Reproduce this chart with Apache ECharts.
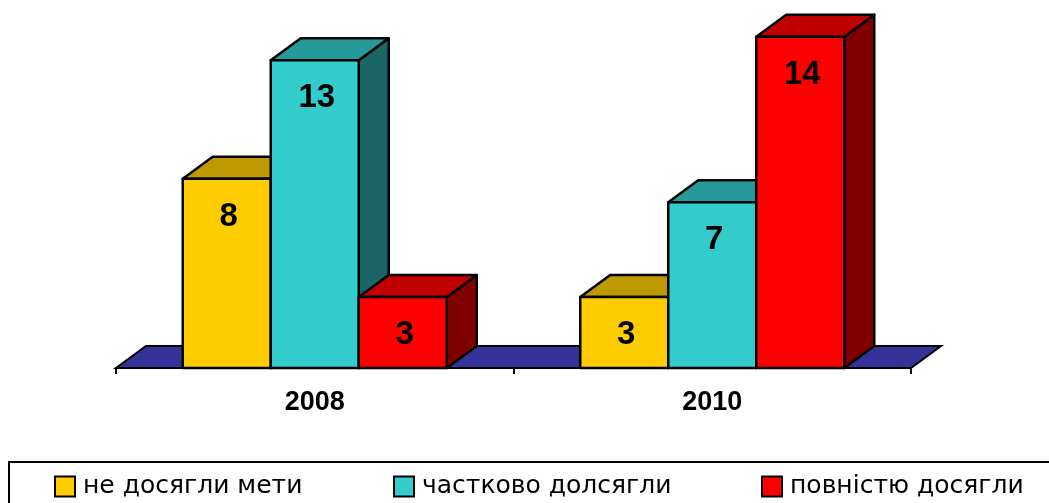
<!DOCTYPE html>
<html>
<head>
<meta charset="utf-8">
<script src="https://cdn.jsdelivr.net/npm/echarts@6/dist/echarts.min.js"></script>
<style>
html, body { margin: 0; padding: 0; background: #fff; }
#content { width: 1049px; height: 503px; }
</style>
</head>
<body>
<div id="content"></div>
<script>
// дані діаграми
var years = ['2008', '2010'];
var seriesNames = ['не досягли мети', 'частково долсягли', 'повністю досягли'];
var notReached = [8, 3];
var partly = [13, 7];
var fully = [3, 14];

// кольори граней: фронт, верх, бік
var faceColors = [
    ['#FFCC00', '#BF9900', '#806600'],
    ['#33CCCC', '#269999', '#1A6666'],
    ['#FF0000', '#C00000', '#800000']
];
var DX = 30, DY = 22;      // зсув "глибини"
var BAR_RATIO = 0.2214;    // ширина стовпця від ширини категорії

function barRenderer(idx) {
    return function (params, api) {
        var cat = api.value(0);
        var val = api.value(1);
        var base = api.coord([cat, 0]);
        var top = api.coord([cat, val]);
        var w = api.size([1, 0])[0] * BAR_RATIO;
        var x0 = base[0] + (idx - 1) * w - w / 2;
        var x1 = x0 + w;
        var ty = top[1], by = base[1];
        var c = faceColors[idx];
        var line = { stroke: '#000', lineWidth: 2.5, lineJoin: 'round' };
        return {
            type: 'group',
            children: [{
                type: 'polygon',
                shape: { points: [[x1, ty], [x1 + DX, ty - DY], [x1 + DX, by - DY], [x1, by]] },
                style: Object.assign({ fill: c[2] }, line)
            }, {
                type: 'polygon',
                shape: { points: [[x0, ty], [x1, ty], [x1 + DX, ty - DY], [x0 + DX, ty - DY]] },
                style: Object.assign({ fill: c[1] }, line)
            }, {
                type: 'rect',
                shape: { x: x0, y: ty, width: w, height: by - ty },
                style: Object.assign({ fill: c[0] }, line)
            }, {
                type: 'text',
                style: {
                    text: String(val),
                    x: x0 + w / 2 + 2,
                    y: ty + 38,
                    align: 'center',
                    verticalAlign: 'middle',
                    fontFamily: 'Liberation Sans',
                    fontWeight: 'bold',
                    fontSize: 33,
                    fill: '#000'
                }
            }]
        };
    };
}

function floorRenderer(params, api) {
    var cs = params.coordSys;
    var yb = cs.y + cs.height;
    return {
        type: 'polygon',
        shape: { points: [[cs.x, yb], [cs.x + cs.width, yb], [cs.x + cs.width + DX, yb - DY], [cs.x + DX, yb - DY]] },
        style: { fill: '#333399', stroke: '#000', lineWidth: 2 }
    };
}

function toPairs(arr) {
    return arr.map(function (v, i) { return [i, v]; });
}

var legendBase = {
    orient: 'horizontal',
    top: 474,
    padding: 0,
    icon: 'rect',
    itemWidth: 20,
    itemHeight: 20,
    itemStyle: { borderColor: '#000', borderWidth: 2 },
    textStyle: { fontFamily: 'DejaVu Sans', fontSize: 25, color: '#000', padding: [3, 0, 0, 3] }
};
var legendLefts = [54, 393, 761];

var option = {
    animation: false,
    backgroundColor: '#fff',
    grid: { left: 116, right: 138, top: 13, bottom: 135 },
    xAxis: {
        type: 'category',
        data: years,
        axisLine: { lineStyle: { color: '#000', width: 2 } },
        axisTick: { show: true, length: 6, lineStyle: { color: '#000', width: 2 } },
        axisLabel: { color: '#000', fontFamily: 'Liberation Sans', fontWeight: 'bold', fontSize: 27, margin: 21 },
        splitLine: { show: false }
    },
    yAxis: { type: 'value', min: 0, max: 15, show: false },
    legend: seriesNames.map(function (n, i) {
        return Object.assign({}, legendBase, { data: [n], left: legendLefts[i] });
    }),
    graphic: [{
        type: 'rect',
        shape: { x: 9, y: 462, width: 1100, height: 100 },
        style: { fill: 'none', stroke: '#000', lineWidth: 2 }
    }],
    series: [{
        type: 'custom',
        renderItem: floorRenderer,
        data: [[0, 0]],
        silent: true,
        z: 1
    }, {
        name: seriesNames[0], type: 'custom', renderItem: barRenderer(0),
        itemStyle: { color: faceColors[0][0] }, encode: { x: 0, y: 1 }, data: toPairs(notReached), z: 2
    }, {
        name: seriesNames[1], type: 'custom', renderItem: barRenderer(1),
        itemStyle: { color: faceColors[1][0] }, encode: { x: 0, y: 1 }, data: toPairs(partly), z: 2
    }, {
        name: seriesNames[2], type: 'custom', renderItem: barRenderer(2),
        itemStyle: { color: faceColors[2][0] }, encode: { x: 0, y: 1 }, data: toPairs(fully), z: 2
    }]
};

var myChart = echarts.init(document.getElementById('content'));
myChart.setOption(option);
</script>
</body>
</html>
